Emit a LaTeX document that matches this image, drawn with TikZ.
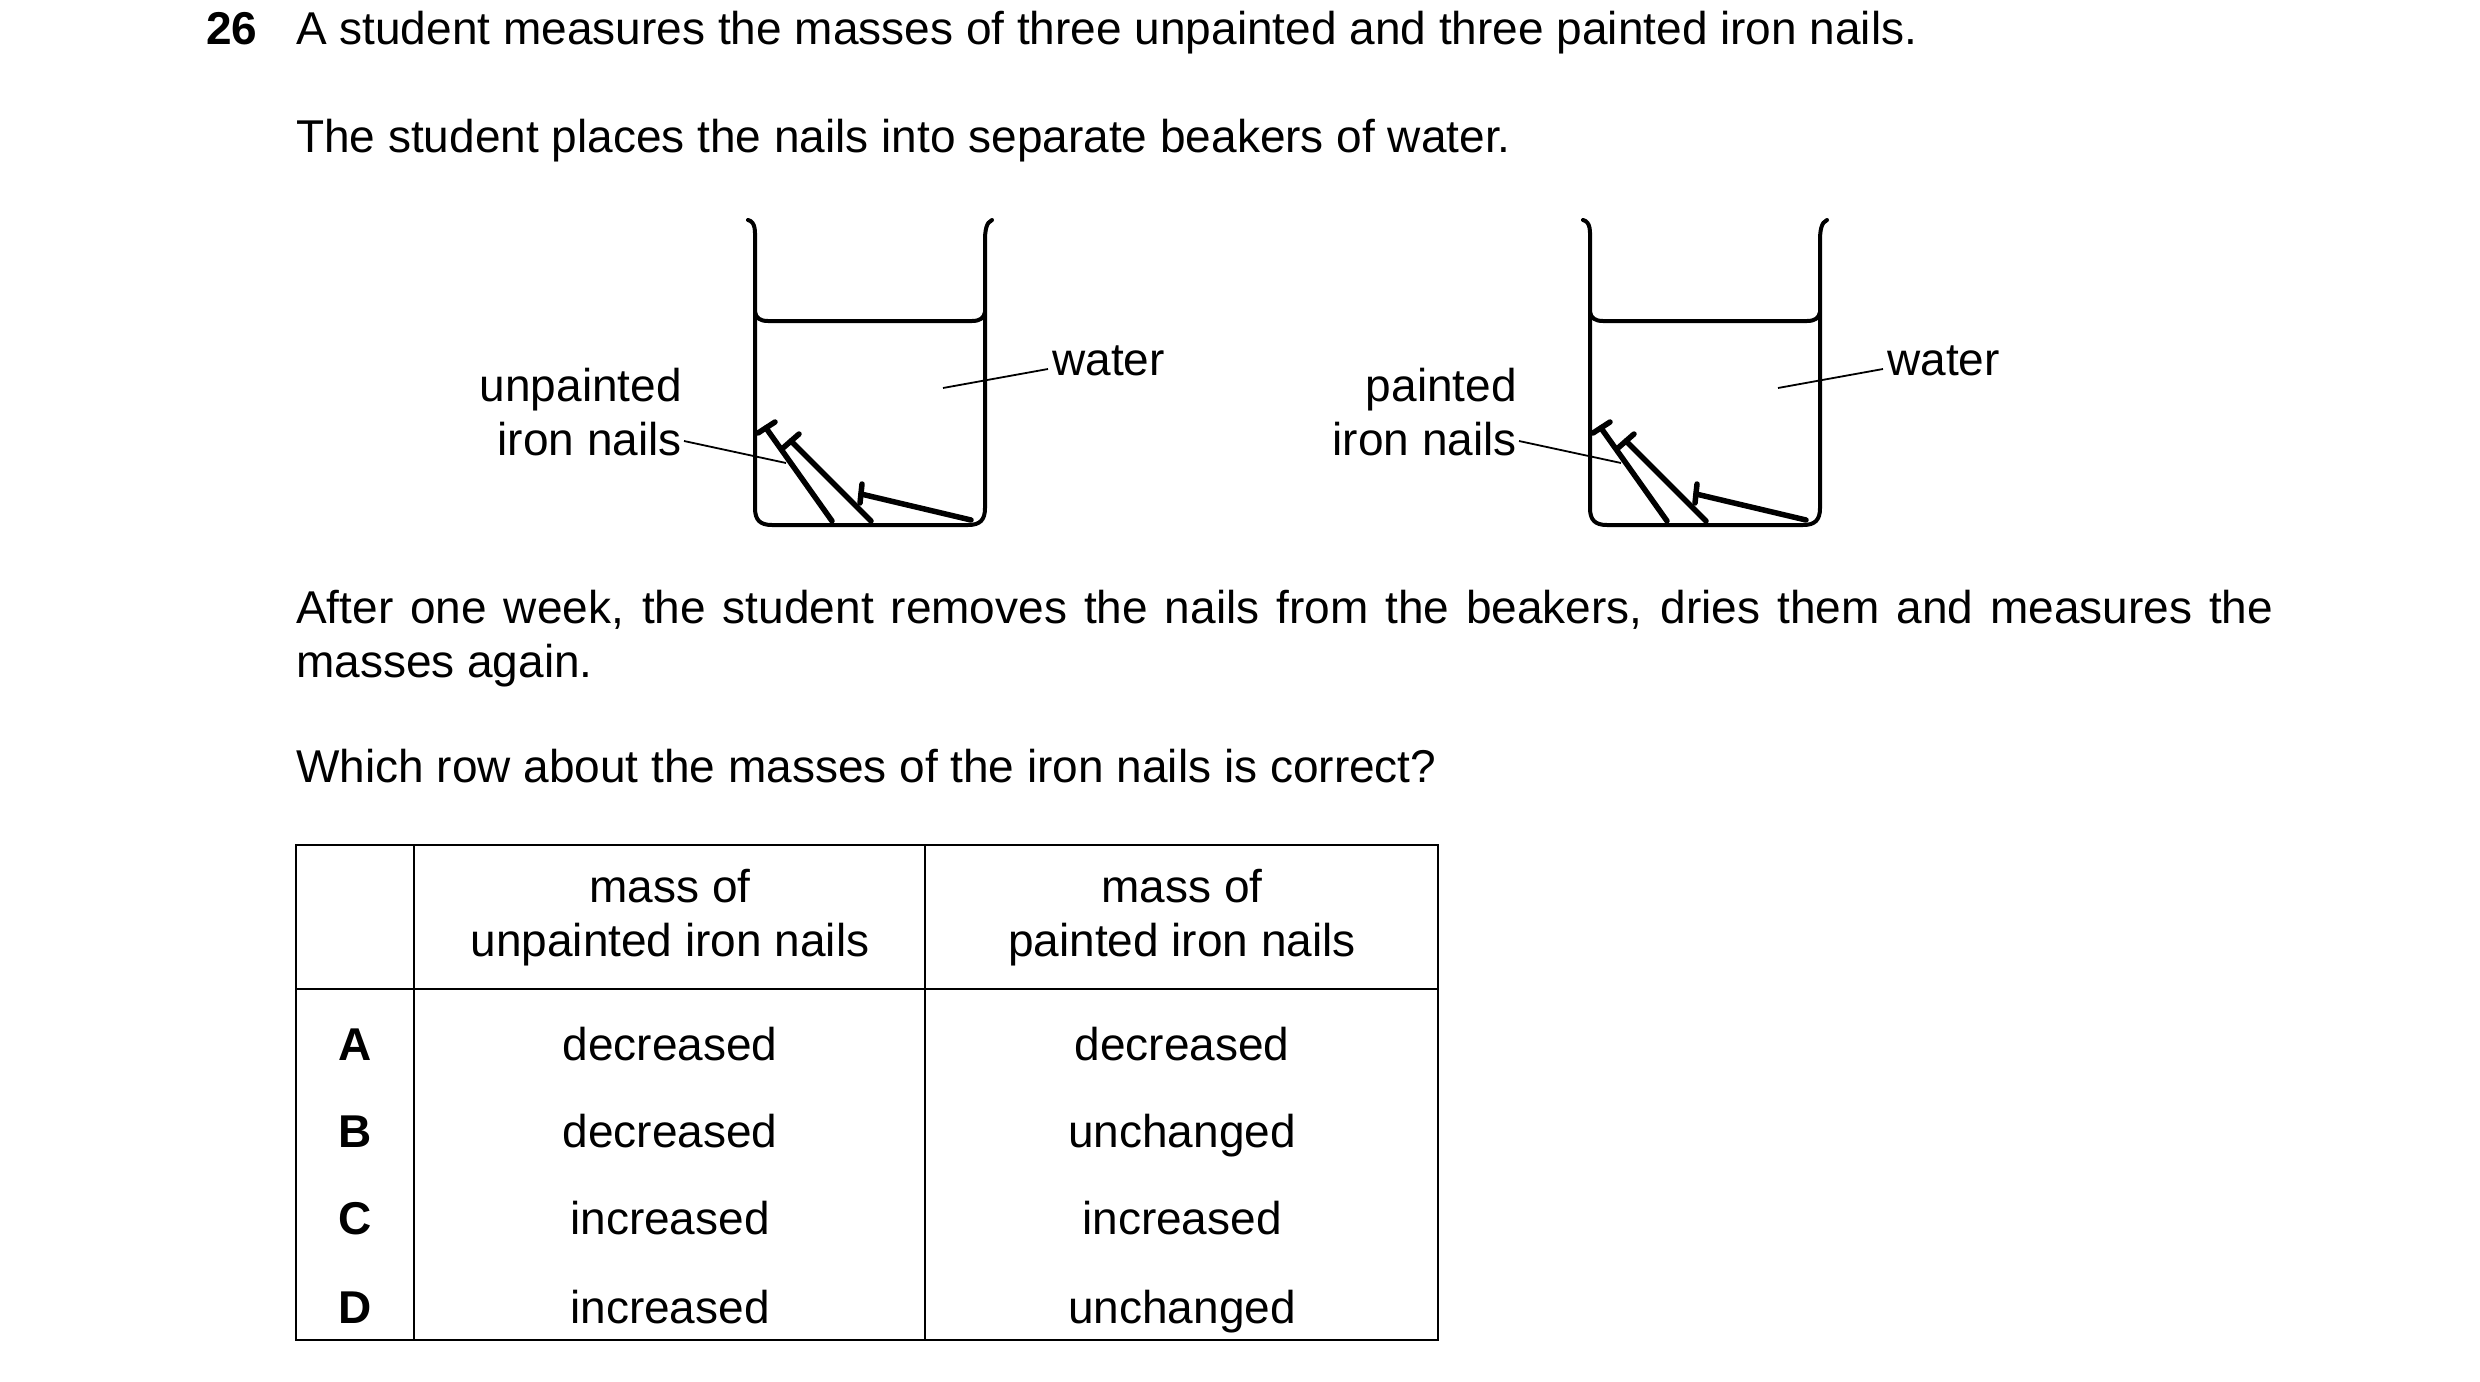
\documentclass[tikz,border=0pt]{standalone}
\usepackage{fontspec}
\setmainfont{Liberation Sans}
\begin{document}
\begin{tikzpicture}[x=1pt,y=-1pt,
  txt/.style={inner sep=0pt,font=\fontsize{46}{54}\selectfont},
  wall/.style={line width=4pt,line cap=round,line join=round},
  nail/.style={line width=5.5pt,line cap=round},
  lead/.style={line width=1.8pt},
  grid/.style={line width=2.2pt}]
\useasboundingbox (0,0) rectangle (2480,1381);
\node[txt,anchor=base west,font=\fontsize{46}{54}\selectfont\bfseries] (q) at (206,45) {26};
\node[txt,anchor=base west] (t1) at (296,45) {A student measures the masses of three unpainted and three painted iron nails.};
\node[txt,anchor=base west] (t2) at (296,152) {The student places the nails into separate beakers of water.};
\foreach \o/\n in {0/a,835/b}{
 \begin{scope}[xshift=\o pt]
  \draw[wall] (748,220) .. controls (756,222) and (755,232) .. (755,240) -- (755,508) .. controls (755,520) and (760,525) .. (772,525) -- (968,525) .. controls (980,525) and (985,520) .. (985,508) -- (985,240) .. controls (985,232) and (986,222) .. (992,220);
  \draw[wall] (755,312) .. controls (756,318) and (760,321) .. (768,321) -- (972,321) .. controls (980,321) and (984,318) .. (985,312);
  \draw[nail] (758,433) -- (775,422);
  \draw[nail] (766,428) -- (832,521);
  \draw[nail] (783,448) -- (799,434);
  \draw[nail] (791,441) -- (871,521);
  \draw[nail] (862,484) -- (860,503);
  \draw[nail] (861,494) -- (971,520);
  \coordinate (w\n) at (943,388);
  \coordinate (n\n) at (786,463);
  \coordinate (ws\n) at (1048,369);
  \coordinate (ns\n) at (684,441);
 \end{scope}}
\node[txt,anchor=base west] (wla) at (1052,375) {water};
\node[txt,anchor=base west] (wlb) at (1887,375) {water};
\node[txt,align=right,anchor=east] (ua) at (682,412) {unpainted\\iron nails};
\node[txt,align=right,anchor=east] (pb) at (1517,412) {painted\\iron nails};
\foreach \n in {a,b}{
  \draw[lead] (ws\n) -- (w\n);
  \draw[lead] (ns\n) -- (n\n);
}
\node[txt,anchor=base west,text width=1977pt,align=justify] (t3) at (296,623) {After one week, the student removes the nails from the beakers, dries them and measures the masses again.};
\node[txt,anchor=base west] (t4) at (296,782) {Which row about the masses of the iron nails is correct?};
\draw[grid] (296,845) rectangle (1438,1340);
\draw[grid] (414,845) -- (414,1340);
\draw[grid] (925,845) -- (925,1340);
\draw[grid] (296,989) -- (1438,989);
\node[txt,align=center] (h1) at (670,918) {mass of\\unpainted iron nails};
\node[txt,align=center] (h2) at (1182,918) {mass of\\painted iron nails};
\foreach \l/\a/\b/\y in {A/decreased/decreased/1060,B/decreased/unchanged/1147,C/increased/increased/1234,D/increased/unchanged/1323}{
  \node[txt,anchor=base,font=\fontsize{46}{54}\selectfont\bfseries] (r\l) at (355,\y) {\l};
  \node[txt,anchor=base] (u\l) at (670,\y) {\a};
  \node[txt,anchor=base] (p\l) at (1182,\y) {\b};
}
\end{tikzpicture}
\end{document}
